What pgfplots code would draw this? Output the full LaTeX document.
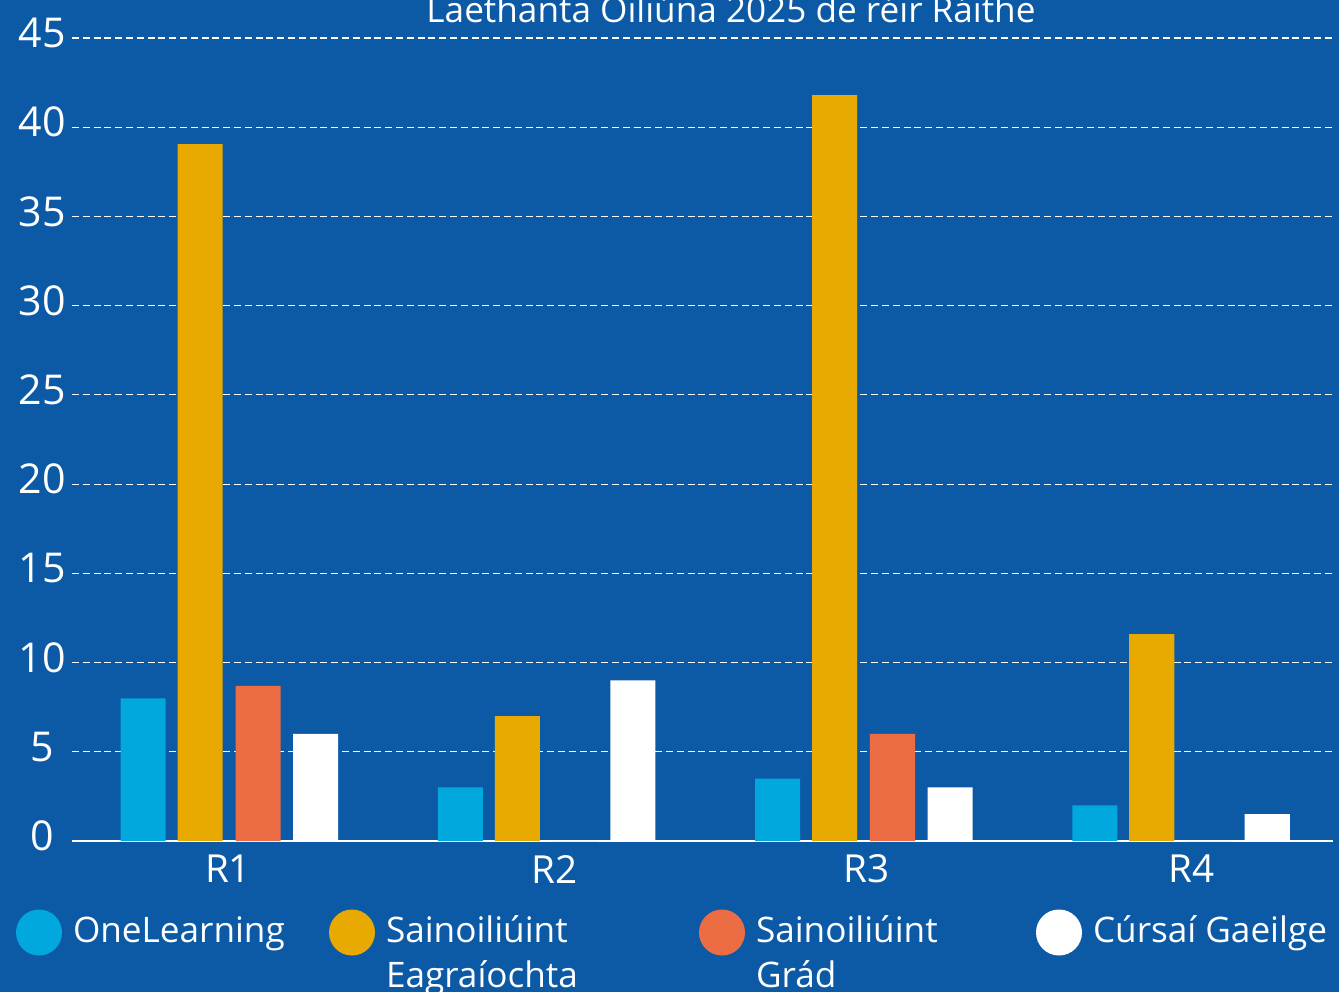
\documentclass[border=0pt]{standalone}
\usepackage{fontspec}
\setmainfont{Open Sans}
\usepackage{pgfplots}
\pgfplotsset{compat=1.18}
\definecolor{bgc}{HTML}{0C5AA6}
\definecolor{cyanc}{HTML}{00A8DE}
\definecolor{goldc}{HTML}{E8AA00}
\definecolor{orangec}{HTML}{EC6D44}
\begin{document}
\begin{tikzpicture}
\fill[bgc] (-7.2mm,-15.1mm) rectangle (126.7mm,84.1mm);
\begin{axis}[
  at={(0,0)}, anchor=south west,
  scale only axis, width=126.1mm, height=80.3mm,
  xmin=-0.495, xmax=3.48, ymin=0, ymax=45,
  xtick={-0.003,1.025,2.011,3.033}, xticklabels={R1,R2,R3,R4},
  ytick={0,5,...,45},
  ymajorgrids,
  grid style={white, line width=0.12mm, dash pattern=on 0.7mm off 0.38mm},
  axis x line*=bottom, axis y line*=left,
  x axis line style={white, line width=0.15mm, -},
  y axis line style={draw=none},
  major tick length=0pt, tick style={draw=none},
  clip=false,
  ticklabel style={text=white},
  /pgf/number format/assume math mode=true,
  yticklabel style={anchor=center, xshift=-3.0mm, yshift=0.5mm, font=\fontsize{11.7}{13}\selectfont},
  xticklabel style={anchor=center, yshift=-2.8mm, font=\fontsize{11}{13}\selectfont},
  legend columns=4,
  legend style={at={(-0.0444,-0.0853)}, anchor=north west, draw=none, fill=none,
    inner sep=0pt, outer sep=0pt, text=white,
    font=\fontsize{10}{12.8}\selectfont,
    nodes={inner sep=0pt, anchor=base west},
    /tikz/every odd column/.append style={column sep=1.1mm}},
]
\addplot[ybar, bar width=0.1419, bar shift=-0.271, fill=cyanc, draw=none,
  legend image code/.code={\fill[cyanc] (2.3mm,1mm) circle (2.3mm);}]
  coordinates {(0,8) (1,3) (2,3.5) (3,2)};
\addlegendentry{\parbox[t]{25.6mm}{OneLearning}}
\addplot[ybar, bar width=0.1419, bar shift=-0.0914, fill=goldc, draw=none,
  legend image code/.code={\fill[goldc] (2.3mm,1mm) circle (2.3mm);}]
  coordinates {(0,39.05) (1,7) (2,41.8) (3,11.6)};
\addlegendentry{\parbox[t]{31.3mm}{Sainoiliúint\\Eagraíochta}}
\addplot[ybar, bar width=0.1419, bar shift=0.0914, fill=orangec, draw=none,
  legend image code/.code={\fill[orangec] (2.3mm,1mm) circle (2.3mm);}]
  coordinates {(0,8.7) (1,0) (2,6) (3,0)};
\addlegendentry{\parbox[t]{28mm}{Sainoiliúint\\Grád}}
\addplot[ybar, bar width=0.1419, bar shift=0.2727, fill=white, draw=none,
  legend image code/.code={\fill[white] (2.3mm,1mm) circle (2.3mm);}]
  coordinates {(0,6) (1,9) (2,3) (3,1.5)};
\addlegendentry{Cúrsaí Gaeilge}
\node[anchor=base, text=white, font=\fontsize{10}{12}\selectfont] at (rel axis cs:0.5226,1.0199) {Laethanta Oiliúna 2025 de réir Ráithe};
\end{axis}
\pgfresetboundingbox
\useasboundingbox (-7.2mm,-15.1mm) rectangle (126.7mm,84.1mm);
\end{tikzpicture}
\end{document}
